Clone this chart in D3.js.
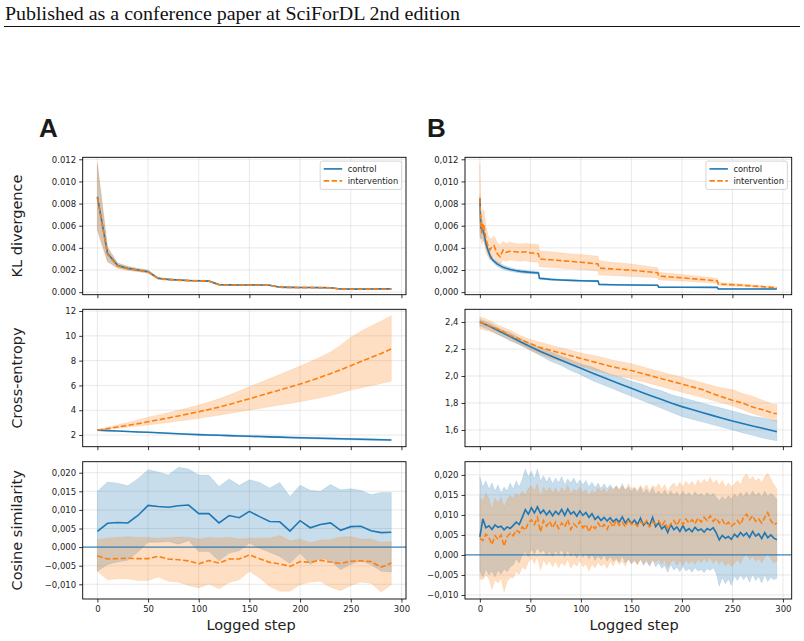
<!DOCTYPE html>
<html>
<head>
<meta charset="utf-8">
<script src="https://cdn.jsdelivr.net/npm/d3@7"></script>
<style>
  body { margin: 0; background: #fff; }
  svg { display: block; }
</style>
</head>
<body>
<svg id="fig" width="804" height="641"></svg>
<script>
// ---------- data ----------
const xTicks = [0, 50, 100, 150, 200, 250, 300];

// Panel A: logged every 10 steps
const stepsA = [0, 10, 20, 30, 40, 50, 60, 70, 80, 90, 100, 110, 120, 130, 140, 150, 160, 170, 180, 190, 200, 210, 220, 230, 240, 250, 260, 270, 280, 290];

// KL divergence, units of 1e-3
const klA_ctrl    = [8.6, 3.5, 2.4, 2.15, 2.0, 1.85, 1.25, 1.15, 1.1, 1.05, 1.03, 1.0, 0.68, 0.66, 0.65, 0.64, 0.64, 0.63, 0.45, 0.43, 0.42, 0.42, 0.41, 0.40, 0.28, 0.27, 0.27, 0.28, 0.30, 0.30];
const klA_ctrl_hi = [11.5, 4.0, 2.6, 2.3, 2.12, 1.97, 1.32, 1.2, 1.15, 1.1, 1.08, 1.05, 0.71, 0.69, 0.68, 0.67, 0.67, 0.66, 0.47, 0.45, 0.44, 0.44, 0.43, 0.42, 0.3, 0.29, 0.29, 0.3, 0.32, 0.32];
const klA_ctrl_lo = [5.7, 2.8, 2.2, 2.0, 1.88, 1.74, 1.18, 1.1, 1.05, 1.0, 0.98, 0.95, 0.65, 0.63, 0.62, 0.61, 0.61, 0.6, 0.43, 0.41, 0.4, 0.4, 0.39, 0.38, 0.26, 0.25, 0.25, 0.26, 0.28, 0.28];
const klA_int     = [8.5, 3.4, 2.35, 2.12, 1.98, 1.83, 1.23, 1.13, 1.08, 1.04, 1.02, 0.99, 0.67, 0.65, 0.64, 0.63, 0.63, 0.62, 0.44, 0.42, 0.41, 0.41, 0.40, 0.39, 0.27, 0.26, 0.26, 0.27, 0.29, 0.29];
const klA_int_hi  = [11.7, 4.1, 2.65, 2.35, 2.15, 2.0, 1.34, 1.21, 1.16, 1.11, 1.09, 1.06, 0.72, 0.7, 0.69, 0.68, 0.68, 0.67, 0.48, 0.46, 0.45, 0.45, 0.44, 0.43, 0.31, 0.3, 0.3, 0.31, 0.33, 0.33];
const klA_int_lo  = [5.5, 2.7, 2.15, 1.95, 1.85, 1.7, 1.15, 1.07, 1.02, 0.98, 0.96, 0.93, 0.63, 0.62, 0.61, 0.6, 0.6, 0.59, 0.42, 0.4, 0.39, 0.39, 0.38, 0.37, 0.25, 0.24, 0.24, 0.25, 0.27, 0.27];

// Cross-entropy
const ceA_ctrl    = [2.40, 2.36, 2.33, 2.29, 2.25, 2.22, 2.18, 2.14, 2.10, 2.06, 2.03, 2.00, 1.98, 1.95, 1.92, 1.90, 1.88, 1.85, 1.83, 1.80, 1.78, 1.76, 1.74, 1.72, 1.70, 1.68, 1.66, 1.64, 1.62, 1.60];
const ceA_ctrl_hi = [2.42, 2.38, 2.35, 2.32, 2.28, 2.25, 2.21, 2.17, 2.14, 2.10, 2.07, 2.05, 2.03, 2.00, 1.98, 1.96, 1.94, 1.91, 1.89, 1.87, 1.85, 1.83, 1.81, 1.79, 1.77, 1.75, 1.73, 1.71, 1.69, 1.67];
const ceA_ctrl_lo = [2.37, 2.34, 2.30, 2.26, 2.22, 2.19, 2.15, 2.11, 2.06, 2.02, 1.99, 1.95, 1.93, 1.90, 1.87, 1.84, 1.82, 1.79, 1.77, 1.74, 1.71, 1.69, 1.67, 1.65, 1.63, 1.61, 1.59, 1.57, 1.55, 1.53];
const ceA_int     = [2.40, 2.52, 2.65, 2.78, 2.92, 3.07, 3.22, 3.38, 3.54, 3.71, 3.88, 4.06, 4.25, 4.47, 4.70, 4.93, 5.16, 5.40, 5.64, 5.87, 6.11, 6.38, 6.66, 6.95, 7.26, 7.59, 7.93, 8.25, 8.58, 8.94];
const ceA_int_hi  = [2.42, 2.62, 2.82, 3.02, 3.22, 3.43, 3.62, 3.80, 3.99, 4.20, 4.42, 4.66, 4.92, 5.22, 5.55, 5.90, 6.22, 6.55, 6.88, 7.22, 7.56, 7.92, 8.30, 8.70, 9.25, 9.88, 10.38, 10.80, 11.20, 11.62];
const ceA_int_lo  = [2.38, 2.46, 2.54, 2.62, 2.72, 2.81, 2.91, 3.02, 3.13, 3.24, 3.35, 3.47, 3.60, 3.73, 3.87, 4.02, 4.15, 4.28, 4.42, 4.55, 4.69, 4.85, 5.00, 5.18, 5.40, 5.63, 5.80, 5.98, 6.16, 6.35];

// Cosine similarity, units of 1e-3
const cosA_ctrl    = [4.2, 6.4, 6.6, 6.5, 8.5, 11.2, 10.9, 10.7, 11.1, 11.3, 9.0, 9.0, 6.5, 8.5, 7.9, 9.6, 8.2, 6.9, 6.8, 4.3, 7.1, 5.2, 6.1, 6.5, 4.5, 5.5, 5.6, 4.4, 3.9, 4.0];
const cosA_ctrl_hi = [15.0, 17.5, 17.2, 16.5, 18.4, 20.8, 20.2, 19.4, 21.5, 21.0, 19.4, 19.3, 16.3, 18.3, 16.6, 18.1, 17.4, 15.9, 17.4, 13.6, 16.6, 15.3, 15.0, 16.8, 15.4, 15.7, 15.3, 14.1, 14.7, 14.7];
const cosA_ctrl_lo = [-6.5, -4.7, -4.0, -3.5, -1.3, 1.3, 1.3, 1.5, 0.8, 1.7, -1.2, -1.2, -3.7, -1.6, -1.0, 1.1, -0.3, -1.4, -2.5, -4.4, -1.6, -4.7, -3.0, -3.7, -6.1, -4.6, -3.7, -4.7, -6.5, -6.7];
const cosA_int     = [-2.3, -3.2, -3.1, -3.0, -3.1, -3.1, -2.5, -3.2, -3.4, -3.7, -4.5, -3.6, -4.3, -3.2, -3.2, -2.1, -3.1, -4.1, -4.5, -5.2, -3.9, -4.1, -3.5, -4.0, -4.4, -3.8, -3.7, -3.9, -5.4, -4.3];
const cosA_int_hi  = [2.0, 2.4, 2.6, 2.8, 2.6, 2.6, 2.4, 2.5, 2.7, 2.6, 2.2, 2.6, 2.4, 2.6, 2.2, 2.4, 2.4, 2.4, 3.1, 1.7, 2.2, 1.2, 1.9, 2.0, 2.7, 2.8, 2.2, 2.2, 1.3, 1.5];
const cosA_int_lo  = [-6.5, -8.8, -8.5, -8.5, -9.0, -9.0, -8.0, -9.2, -9.4, -10.3, -11.0, -9.9, -11.2, -9.5, -8.8, -6.5, -8.3, -10.6, -11.9, -11.9, -10.1, -9.4, -9.2, -10.8, -11.7, -10.3, -9.4, -9.7, -12.1, -10.1];

// Panel B: KL divergence, units of 1e-3 (dense early, steps at the LR drops)
const stepsB_kl = [0, 1, 2, 3, 4, 5, 6, 8, 10, 12, 14, 17, 20, 23, 26, 30, 35, 40, 45, 50, 58, 59, 70, 80, 90, 100, 117, 118, 130, 150, 176, 177, 200, 235, 236, 260, 294];
const klB_ctrl    = [8.5, 5.8, 5.7, 5.6, 5.3, 4.9, 4.4, 3.8, 3.3, 3.0, 2.8, 2.55, 2.4, 2.25, 2.15, 2.05, 1.95, 1.88, 1.83, 1.79, 1.74, 1.25, 1.15, 1.1, 1.06, 1.03, 1.0, 0.7, 0.67, 0.65, 0.62, 0.45, 0.44, 0.43, 0.3, 0.29, 0.28];
const klB_ctrl_hi = [8.8, 6.8, 6.6, 6.4, 5.9, 5.4, 4.8, 4.1, 3.6, 3.2, 3.0, 2.75, 2.6, 2.45, 2.35, 2.22, 2.1, 2.02, 1.97, 1.92, 1.86, 1.35, 1.22, 1.16, 1.12, 1.09, 1.06, 0.74, 0.71, 0.69, 0.66, 0.48, 0.47, 0.46, 0.32, 0.31, 0.3];
const klB_ctrl_lo = [5.0, 4.8, 4.9, 4.8, 4.6, 4.3, 4.0, 3.5, 3.0, 2.8, 2.6, 2.35, 2.2, 2.05, 1.95, 1.88, 1.8, 1.74, 1.69, 1.66, 1.62, 1.15, 1.08, 1.04, 1.0, 0.97, 0.94, 0.66, 0.63, 0.61, 0.58, 0.42, 0.41, 0.4, 0.28, 0.27, 0.26];
const klB_int     = [8.5, 6.0, 5.3, 6.2, 6.0, 5.5, 4.8, 4.2, 3.8, 4.1, 4.2, 3.5, 3.2, 3.8, 3.6, 3.7, 3.65, 3.6, 3.65, 3.55, 3.48, 3.0, 2.92, 2.85, 2.78, 2.7, 2.55, 2.18, 2.1, 1.98, 1.75, 1.45, 1.3, 1.02, 0.73, 0.62, 0.4];
const klB_int_hi  = [11.6, 7.2, 6.8, 7.5, 7.3, 6.8, 6.0, 5.2, 4.8, 4.9, 5.1, 4.5, 4.2, 4.6, 4.4, 4.5, 4.4, 4.35, 4.4, 4.35, 4.3, 3.75, 3.65, 3.55, 3.45, 3.4, 3.25, 2.85, 2.7, 2.55, 2.2, 1.8, 1.6, 1.25, 0.88, 0.74, 0.47];
const klB_int_lo  = [5.5, 4.8, 4.3, 4.7, 4.6, 4.2, 3.6, 3.2, 2.9, 3.1, 3.2, 2.6, 2.5, 2.9, 2.8, 2.9, 2.85, 2.8, 2.85, 2.75, 2.7, 2.3, 2.22, 2.15, 2.1, 2.05, 1.9, 1.55, 1.5, 1.42, 1.3, 1.1, 1.0, 0.8, 0.6, 0.5, 0.33];

// Panel B: cross-entropy
const stepsB_ce = [0, 10, 20, 30, 40, 50, 60, 70, 80, 90, 100, 110, 120, 130, 140, 150, 160, 170, 180, 190, 200, 210, 220, 230, 240, 250, 260, 270, 280, 290, 294];
const ceB_ctrl    = [2.400, 2.366, 2.330, 2.292, 2.254, 2.217, 2.182, 2.150, 2.118, 2.087, 2.057, 2.026, 1.996, 1.966, 1.937, 1.909, 1.880, 1.852, 1.825, 1.798, 1.773, 1.751, 1.729, 1.708, 1.687, 1.667, 1.648, 1.630, 1.612, 1.594, 1.587];
const ceB_ctrl_hi = [2.42, 2.39, 2.35, 2.32, 2.28, 2.24, 2.21, 2.18, 2.15, 2.12, 2.09, 2.07, 2.04, 2.01, 1.99, 1.96, 1.94, 1.91, 1.89, 1.86, 1.84, 1.82, 1.80, 1.78, 1.76, 1.74, 1.72, 1.70, 1.69, 1.67, 1.67];
const ceB_ctrl_lo = [2.37, 2.34, 2.30, 2.26, 2.23, 2.19, 2.15, 2.11, 2.08, 2.04, 2.01, 1.97, 1.94, 1.91, 1.88, 1.85, 1.82, 1.79, 1.76, 1.73, 1.70, 1.68, 1.66, 1.64, 1.62, 1.60, 1.58, 1.56, 1.54, 1.525, 1.52];
const ceB_int     = [2.40, 2.37, 2.34, 2.30, 2.27, 2.24, 2.21, 2.19, 2.17, 2.15, 2.13, 2.11, 2.09, 2.07, 2.055, 2.04, 2.02, 2.00, 1.98, 1.96, 1.94, 1.92, 1.90, 1.87, 1.845, 1.82, 1.80, 1.77, 1.75, 1.725, 1.72];
const ceB_int_hi  = [2.44, 2.41, 2.37, 2.34, 2.30, 2.27, 2.25, 2.23, 2.21, 2.19, 2.17, 2.155, 2.14, 2.12, 2.105, 2.09, 2.07, 2.05, 2.03, 2.01, 1.99, 1.97, 1.95, 1.93, 1.91, 1.90, 1.87, 1.85, 1.82, 1.79, 1.79];
const ceB_int_lo  = [2.35, 2.33, 2.30, 2.27, 2.23, 2.19, 2.16, 2.13, 2.11, 2.09, 2.07, 2.05, 2.03, 2.01, 1.995, 1.98, 1.96, 1.94, 1.92, 1.90, 1.88, 1.86, 1.84, 1.82, 1.80, 1.78, 1.75, 1.72, 1.70, 1.67, 1.665];

// Panel B: cosine similarity, every 3 steps, units of 1e-3
const stepsB_cos = [0, 3, 6, 9, 12, 15, 18, 21, 24, 27, 30, 33, 36, 39, 42, 45, 48, 51, 54, 57, 60, 63, 66, 69, 72, 75, 78, 81, 84, 87, 90, 93, 96, 99, 102, 105, 108, 111, 114, 117, 120, 123, 126, 129, 132, 135, 138, 141, 144, 147, 150, 153, 156, 159, 162, 165, 168, 171, 174, 177, 180, 183, 186, 189, 192, 195, 198, 201, 204, 207, 210, 213, 216, 219, 222, 225, 228, 231, 234, 237, 240, 243, 246, 249, 252, 255, 258, 261, 264, 267, 270, 273, 276, 279, 282, 285, 288, 291, 294];
const cosB_ctrl = [4.5, 9.0, 6.8, 7.3, 6.4, 7.5, 6.9, 7.2, 6.3, 7.0,
  6.6, 7.4, 8.2, 7.6, 9.4, 11.3, 10.2, 11.8, 10.5, 12.0,
  10.4, 11.2, 10.0, 11.0, 9.8, 10.9, 10.1, 11.4, 9.9, 11.5,
  10.2, 10.8, 9.7, 11.0, 9.9, 10.6, 9.4, 10.3, 8.9, 9.6,
  8.6, 9.4, 8.5, 9.3, 8.3, 9.0, 8.2, 9.5, 8.0, 9.0,
  7.8, 8.7, 7.6, 9.2, 7.4, 8.3, 7.3, 9.4, 7.1, 8.0,
  6.5, 7.2, 5.6, 7.6, 6.3, 7.0, 5.9, 7.3, 6.0, 6.6,
  5.8, 6.9, 6.1, 6.5, 5.7, 6.6, 6.2, 6.8, 5.5, 3.8,
  4.9, 4.2, 4.6, 3.9, 5.2, 4.5, 5.6, 4.8, 5.5, 4.4,
  5.9, 4.7, 5.3, 4.1, 5.6, 4.3, 5.0, 4.2, 3.8];
const cosB_ctrl_hi = [19.5, 17.0, 18.5, 16.5, 18.0, 16.0, 17.5, 15.5, 17.0, 16.0,
  18.0, 16.5, 18.5, 17.0, 19.0, 21.5, 19.5, 21.0, 19.0, 21.5,
  18.5, 19.8, 18.2, 19.5, 17.8, 19.2, 18.0, 19.6, 17.5, 19.0,
  18.0, 19.2, 17.6, 18.8, 17.5, 18.6, 17.0, 18.2, 16.8, 18.0,
  16.6, 17.8, 16.5, 17.6, 16.4, 17.2, 16.0, 17.8, 16.2, 17.0,
  15.8, 16.8, 15.6, 17.0, 15.4, 16.5, 15.3, 16.8, 15.2, 16.0,
  15.0, 16.2, 14.8, 16.0, 15.0, 15.8, 14.6, 16.0, 14.8, 15.6,
  14.6, 15.8, 14.8, 15.4, 14.6, 15.6, 14.8, 15.4, 14.5, 13.5,
  14.6, 13.8, 14.8, 14.0, 15.2, 14.4, 15.6, 14.6, 15.8, 14.6,
  16.0, 14.8, 15.6, 14.5, 16.0, 14.6, 15.4, 14.8, 14.0];
const cosB_ctrl_lo = [-4.0, -5.5, -3.5, -5.0, -4.0, -5.5, -3.8, -4.8, -3.5, -4.2,
  -3.0, -2.5, -1.0, -2.0, 0.0, 0.8, -0.5, 1.5, 0.2, 1.8,
  0.5, 1.2, -0.2, 0.9, -0.4, 1.0, 0.0, 1.4, -0.6, 1.1,
  -0.3, 0.6, -0.8, 0.8, -0.6, 0.4, -1.0, 0.2, -1.4, -0.2,
  -1.2, 0.0, -1.5, -0.4, -1.6, -0.8, -1.8, -0.2, -2.0, -1.0,
  -2.2, -1.2, -2.4, -0.8, -2.6, -1.6, -2.8, -1.0, -3.0, -2.0,
  -3.4, -2.6, -4.4, -2.4, -3.8, -3.0, -4.2, -2.8, -4.0, -3.4,
  -4.3, -3.2, -4.0, -3.6, -4.4, -3.4, -3.9, -3.2, -4.6, -7.8,
  -5.6, -7.2, -6.0, -7.6, -5.2, -6.4, -5.0, -6.2, -5.2, -6.8,
  -4.8, -6.4, -5.4, -7.0, -5.0, -6.6, -5.6, -6.2, -5.8];
const cosB_int = [4.2, 3.6, 5.2, 4.4, 2.6, 4.8, 3.9, 5.0, 2.2, 4.6,
  5.4, 4.8, 6.2, 5.6, 7.0, 6.2, 8.0, 8.8, 7.6, 9.4,
  5.8, 8.6, 7.2, 8.4, 6.8, 8.2, 6.6, 8.0, 7.0, 8.8,
  6.4, 7.8, 7.0, 8.4, 6.8, 7.6, 5.8, 7.4, 6.6, 8.0,
  6.8, 7.6, 6.4, 8.2, 7.0, 8.6, 7.4, 8.2, 7.0, 8.8,
  7.6, 8.0, 7.2, 8.4, 7.4, 8.6, 7.0, 8.2, 7.8, 8.6,
  7.2, 8.4, 6.4, 7.8, 8.6, 7.4, 8.8, 7.6, 9.0, 8.0,
  8.8, 7.8, 9.2, 8.2, 9.4, 8.6, 9.8, 8.4, 9.2, 8.0,
  8.8, 7.4, 8.2, 7.2, 7.8, 8.6, 7.6, 9.4, 10.2, 8.8,
  9.8, 8.4, 9.0, 8.0, 9.4, 10.6, 8.6, 7.6, 8.0];
const cosB_int_hi = [14.5, 13.5, 15.5, 14.0, 11.5, 14.2, 13.0, 14.5, 11.8, 14.0,
  14.8, 14.2, 15.4, 14.6, 16.0, 15.0, 16.6, 17.2, 16.0, 17.8,
  14.6, 17.0, 15.8, 17.0, 15.6, 16.8, 15.4, 16.8, 15.8, 17.4,
  15.2, 16.4, 15.8, 17.0, 15.6, 16.4, 14.8, 16.2, 15.4, 16.8,
  15.8, 16.6, 15.4, 17.0, 16.0, 17.4, 16.4, 17.2, 16.0, 17.8,
  16.6, 17.0, 16.2, 17.4, 16.4, 17.6, 16.0, 17.4, 16.8, 17.8,
  16.4, 17.6, 15.8, 17.2, 18.0, 16.8, 18.2, 17.0, 18.4, 17.4,
  18.4, 17.2, 18.8, 17.6, 19.0, 18.0, 19.4, 17.8, 18.8, 17.4,
  18.6, 17.0, 18.0, 17.0, 17.8, 18.6, 17.6, 19.4, 20.2, 18.8,
  19.6, 18.4, 19.2, 18.0, 19.6, 20.4, 19.0, 17.6, 16.5];
const cosB_int_lo = [-6.0, -6.2, -5.0, -6.0, -8.6, -6.2, -7.0, -5.8, -9.2, -6.6,
  -5.6, -5.8, -4.2, -4.8, -3.0, -3.6, -1.8, -0.8, -2.2, -0.4,
  -3.8, -1.2, -2.6, -1.4, -3.0, -1.6, -3.2, -1.8, -2.8, -1.0,
  -3.4, -2.0, -2.8, -1.4, -3.0, -2.2, -4.0, -2.4, -3.2, -1.8,
  -2.8, -2.2, -3.4, -1.6, -2.8, -1.2, -2.4, -1.6, -2.8, -1.0,
  -2.2, -1.6, -2.4, -1.2, -2.2, -1.0, -2.6, -1.4, -1.8, -1.0,
  -2.4, -1.2, -3.2, -1.8, -1.2, -2.6, -1.4, -2.6, -1.2, -2.2,
  -1.4, -2.4, -1.0, -2.0, -0.8, -1.8, -0.6, -2.2, -1.0, -2.4,
  -1.2, -2.8, -1.8, -2.8, -2.0, -1.2, -2.2, -0.6, 0.2, -1.2,
  -0.4, -1.6, -0.8, -2.0, -0.6, 0.4, -1.0, -2.0, -1.5];

const seriesNames = ['control', 'intervention'];
const colors = { control: '#1f77b4', intervention: '#ff7f0e' };

// ---------- layout ----------
const svg = d3.select('#fig');
const rows = [
  { top: 157.3, bottom: 294.7 },
  { top: 309.3, bottom: 446.7 },
  { top: 461.7, bottom: 599 }
];
const cols = [
  { left: 82.7, right: 406, xDomain: [-14.5, 304.5] },
  { left: 465, right: 791.7, xDomain: [-14.7, 308.7] }
];
const tickFont = 'DejaVu Sans, sans-serif';

const milli = arr => arr.map(v => v * 1e-3);
const zipSeries = (steps, mean, lo, hi) => steps.map((s, i) => ({ s, m: mean[i], lo: lo[i], hi: hi[i] }));
const comma = f => d => f(d).replace('.', ',');

// Header
svg.append('text')
  .attr('x', 5).attr('y', 20)
  .attr('font-family', 'Liberation Serif, Times New Roman, serif')
  .attr('font-size', 19.5)
  .attr('textLength', 455).attr('lengthAdjust', 'spacingAndGlyphs')
  .attr('fill', '#111')
  .text('Published as a conference paper at SciForDL 2nd edition');
svg.append('line')
  .attr('x1', 4).attr('x2', 800).attr('y1', 26.5).attr('y2', 26.5)
  .attr('stroke', '#111').attr('stroke-width', 1.1);

// Panel letters
[['A', 39], ['B', 427]].forEach(([t, x]) => {
  svg.append('text').attr('x', x).attr('y', 137)
    .attr('font-family', 'Liberation Sans, Arial, sans-serif')
    .attr('font-weight', 'bold').attr('font-size', 26)
    .attr('fill', '#1a1a1a').text(t);
});

let clipId = 0;

function drawPanel(col, row, cfg) {
  const x = d3.scaleLinear().domain(col.xDomain).range([col.left, col.right]);
  const y = d3.scaleLinear().domain(cfg.yDomain).range([row.bottom, row.top]);
  const g = svg.append('g');

  const id = 'clip' + (clipId++);
  svg.append('clipPath').attr('id', id).append('rect')
    .attr('x', col.left).attr('y', row.top)
    .attr('width', col.right - col.left).attr('height', row.bottom - row.top);

  // grid
  const grid = g.append('g').attr('stroke', '#b0b0b0').attr('stroke-opacity', 0.35).attr('stroke-width', 0.8);
  grid.selectAll('.gx').data(xTicks).join('line')
    .attr('x1', d => x(d)).attr('x2', d => x(d))
    .attr('y1', row.top).attr('y2', row.bottom);
  grid.selectAll('.gy').data(cfg.yTicks).join('line')
    .attr('x1', col.left).attr('x2', col.right)
    .attr('y1', d => y(d)).attr('y2', d => y(d));

  const plot = g.append('g').attr('clip-path', `url(#${id})`);

  const area = d3.area().x(d => x(d.s)).y0(d => y(d.lo)).y1(d => y(d.hi));
  const line = d3.line().x(d => x(d.s)).y(d => y(d.m));

  // bands first, then zero line, then the means
  cfg.series.forEach(sr => {
    plot.append('path').datum(sr.data)
      .attr('d', area)
      .attr('fill', colors[sr.name]).attr('fill-opacity', 0.25)
      .attr('stroke', colors[sr.name]).attr('stroke-opacity', 0.2).attr('stroke-width', 0.6);
  });

  if (cfg.zeroLine) {
    plot.append('line')
      .attr('x1', col.left).attr('x2', col.right)
      .attr('y1', y(0)).attr('y2', y(0))
      .attr('stroke', '#1f77b4').attr('stroke-width', 1.2).attr('stroke-opacity', 0.85);
  }

  cfg.series.forEach(sr => {
    plot.append('path').datum(sr.data)
      .attr('d', line)
      .attr('fill', 'none')
      .attr('stroke', colors[sr.name])
      .attr('stroke-width', 1.6)
      .attr('stroke-dasharray', sr.name === 'intervention' ? '5.5,2.4' : null);
  });

  // axes
  const yAxis = g.append('g').attr('transform', `translate(${col.left},0)`)
    .call(d3.axisLeft(y).tickValues(cfg.yTicks).tickFormat(cfg.fmt).tickSize(3.5).tickPadding(3));
  const xAxis = g.append('g').attr('transform', `translate(0,${row.bottom})`)
    .call(d3.axisBottom(x).tickValues(xTicks)
      .tickFormat(cfg.xLabels ? d3.format('d') : () => '')
      .tickSize(3.5).tickPadding(3.5));
  [yAxis, xAxis].forEach(a => {
    a.select('.domain').remove();
    a.attr('font-family', tickFont).attr('font-size', 8.5);
    a.selectAll('line').attr('stroke', '#000').attr('stroke-width', 0.8);
    a.selectAll('text').attr('fill', '#222');
  });

  // frame
  g.append('rect')
    .attr('x', col.left).attr('y', row.top)
    .attr('width', col.right - col.left).attr('height', row.bottom - row.top)
    .attr('fill', 'none').attr('stroke', '#000').attr('stroke-width', 0.9);

  // legend
  if (cfg.legend) {
    const w = 81.5, h = 28.3;
    const lx = col.right - 4.3 - w, ly = row.top + 3.8;
    const lg = g.append('g');
    lg.append('rect').attr('x', lx).attr('y', ly).attr('width', w).attr('height', h)
      .attr('rx', 2).attr('fill', '#fff').attr('fill-opacity', 0.85)
      .attr('stroke', '#cccccc').attr('stroke-width', 0.8);
    seriesNames.forEach((name, i) => {
      const cy = ly + 7.8 + i * 12;
      lg.append('line').attr('x1', lx + 3.5).attr('x2', lx + 22)
        .attr('y1', cy).attr('y2', cy)
        .attr('stroke', colors[name]).attr('stroke-width', 1.6)
        .attr('stroke-dasharray', name === 'intervention' ? '5.5,2.4' : null);
      lg.append('text').attr('x', lx + 27.5).attr('y', cy)
        .attr('dy', '0.35em')
        .attr('font-family', tickFont).attr('font-size', 8.3).attr('fill', '#222')
        .text(name);
    });
  }
}

// ---------- panels ----------
const f3 = d3.format('.3f');

drawPanel(cols[0], rows[0], {
  yDomain: [-0.00023, 0.01218], yTicks: [0, 0.002, 0.004, 0.006, 0.008, 0.010, 0.012],
  fmt: f3, legend: true,
  series: [
    { name: 'control', data: zipSeries(stepsA, milli(klA_ctrl), milli(klA_ctrl_lo), milli(klA_ctrl_hi)) },
    { name: 'intervention', data: zipSeries(stepsA, milli(klA_int), milli(klA_int_lo), milli(klA_int_hi)) }
  ]
});
drawPanel(cols[0], rows[1], {
  yDomain: [1.06, 12.14], yTicks: [2, 4, 6, 8, 10, 12], fmt: d3.format('d'),
  series: [
    { name: 'control', data: zipSeries(stepsA, ceA_ctrl, ceA_ctrl_lo, ceA_ctrl_hi) },
    { name: 'intervention', data: zipSeries(stepsA, ceA_int, ceA_int_lo, ceA_int_hi) }
  ]
});
drawPanel(cols[0], rows[2], {
  yDomain: [-0.01395, 0.02296], yTicks: [-0.010, -0.005, 0, 0.005, 0.010, 0.015, 0.020],
  fmt: comma(f3), zeroLine: true, xLabels: true,
  series: [
    { name: 'control', data: zipSeries(stepsA, milli(cosA_ctrl), milli(cosA_ctrl_lo), milli(cosA_ctrl_hi)) },
    { name: 'intervention', data: zipSeries(stepsA, milli(cosA_int), milli(cosA_int_lo), milli(cosA_int_hi)) }
  ]
});

drawPanel(cols[1], rows[0], {
  yDomain: [-0.00023, 0.01218], yTicks: [0, 0.002, 0.004, 0.006, 0.008, 0.010, 0.012],
  fmt: comma(f3), legend: true,
  series: [
    { name: 'control', data: zipSeries(stepsB_kl, milli(klB_ctrl), milli(klB_ctrl_lo), milli(klB_ctrl_hi)) },
    { name: 'intervention', data: zipSeries(stepsB_kl, milli(klB_int), milli(klB_int_lo), milli(klB_int_hi)) }
  ]
});
drawPanel(cols[1], rows[1], {
  yDomain: [1.476, 2.494], yTicks: [1.6, 1.8, 2.0, 2.2, 2.4], fmt: comma(d3.format('.1f')),
  series: [
    { name: 'control', data: zipSeries(stepsB_ce, ceB_ctrl, ceB_ctrl_lo, ceB_ctrl_hi) },
    { name: 'intervention', data: zipSeries(stepsB_ce, ceB_int, ceB_int_lo, ceB_int_hi) }
  ]
});
drawPanel(cols[1], rows[2], {
  yDomain: [-0.011, 0.0233], yTicks: [-0.010, -0.005, 0, 0.005, 0.010, 0.015, 0.020],
  fmt: comma(f3), zeroLine: true, xLabels: true,
  series: [
    { name: 'control', data: zipSeries(stepsB_cos, milli(cosB_ctrl), milli(cosB_ctrl_lo), milli(cosB_ctrl_hi)) },
    { name: 'intervention', data: zipSeries(stepsB_cos, milli(cosB_int), milli(cosB_int_lo), milli(cosB_int_hi)) }
  ]
});

// ---------- axis titles ----------
const yTitles = ['KL divergence', 'Cross-entropy', 'Cosine similarity'];
yTitles.forEach((t, i) => {
  const cy = (rows[i].top + rows[i].bottom) / 2;
  svg.append('text')
    .attr('transform', `translate(17,${cy}) rotate(-90)`)
    .attr('text-anchor', 'middle').attr('dy', '0.35em')
    .attr('font-family', tickFont).attr('font-size', 14.5).attr('fill', '#222')
    .text(t);
});
[251, 634].forEach(cx => {
  svg.append('text')
    .attr('x', cx).attr('y', 630)
    .attr('text-anchor', 'middle')
    .attr('font-family', tickFont).attr('font-size', 14.5).attr('fill', '#222')
    .text('Logged step');
});
</script>
</body>
</html>
